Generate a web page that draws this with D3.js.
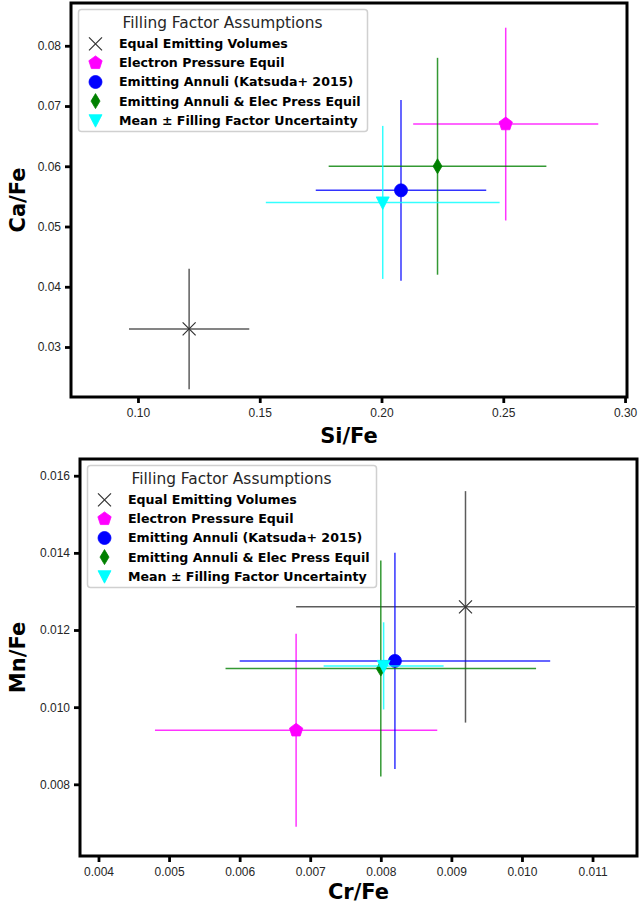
<!DOCTYPE html>
<html lang="en">
<head>
    <meta charset="UTF-8" />
    <title>Filling Factor Assumptions</title>
    <style>
        body { margin: 0; background: #fff; }
        svg { display: block; font-family: "DejaVu Sans", sans-serif; }
        .tick text { fill: #262626; font-size: 12px; }
        .tick line { stroke: #000; stroke-width: 2.8; }
        .axis-label { font-weight: bold; font-size: 21px; fill: #000; }
        .legend-title { font-size: 15.4px; fill: #262626; }
        .legend-item { font-size: 12.6px; font-weight: bold; fill: #000; }
    </style>
</head>
<body>
    <svg></svg>
    <script src="https://d3js.org/d3.v7.min.js"></script>
    <script>
        // series, in legend order
        const seriesNames = [
            "Equal Emitting Volumes",
            "Electron Pressure Equil",
            "Emitting Annuli (Katsuda+ 2015)",
            "Emitting Annuli & Elec Press Equil",
            "Mean \u00b1 Filling Factor Uncertainty"
        ];
        const seriesColors = ["#000000", "#ff00ff", "#0000ff", "#008000", "#00ffff"];
        const seriesMarkers = ["x", "pentagon", "circle", "diamond", "triangleDown"];

        // top panel: Si/Fe vs Ca/Fe
        const siFe = [0.121, 0.251, 0.208, 0.223, 0.2005];
        const siFeErr = [0.0247, 0.038, 0.035, 0.0447, 0.048];
        const caFe = [0.033, 0.067, 0.056, 0.060, 0.054];
        const caFeErr = [0.010, 0.016, 0.015, 0.018, 0.0127];

        // bottom panel: Cr/Fe vs Mn/Fe
        const crFe = [0.0092, 0.0068, 0.0082, 0.0080, 0.00804];
        const crFeErr = [0.0024, 0.0020, 0.0022, 0.0022, 0.00085];
        const mnFe = [0.0126, 0.0094, 0.0112, 0.0110, 0.01107];
        const mnFeErr = [0.0030, 0.0025, 0.0028, 0.0028, 0.00113];

        const siTicks = [0.10, 0.15, 0.20, 0.25, 0.30];
        const caTicks = [0.03, 0.04, 0.05, 0.06, 0.07, 0.08];
        const crTicks = [0.004, 0.005, 0.006, 0.007, 0.008, 0.009, 0.010, 0.011];
        const mnTicks = [0.008, 0.010, 0.012, 0.014, 0.016];

        const width = 639;
        const height = 905;

        const svg = d3.select("svg")
            .attr("width", width)
            .attr("height", height);

        // marker shapes centred on 0,0
        function markerPath(kind) {
            const p = d3.path();
            if (kind === "x") {
                const s = 6.5;
                p.moveTo(-s, -s); p.lineTo(s, s);
                p.moveTo(-s, s); p.lineTo(s, -s);
            } else if (kind === "pentagon") {
                const r = 7;
                for (let i = 0; i < 5; i++) {
                    const a = -Math.PI / 2 + i * 2 * Math.PI / 5;
                    i === 0 ? p.moveTo(r * Math.cos(a), r * Math.sin(a)) : p.lineTo(r * Math.cos(a), r * Math.sin(a));
                }
                p.closePath();
            } else if (kind === "circle") {
                p.arc(0, 0, 6.5, 0, 2 * Math.PI);
            } else if (kind === "diamond") {
                p.moveTo(0, -7.5); p.lineTo(4.5, 0); p.lineTo(0, 7.5); p.lineTo(-4.5, 0);
                p.closePath();
            } else if (kind === "triangleDown") {
                p.moveTo(-6.5, -5.5); p.lineTo(6.5, -5.5); p.lineTo(0, 7);
                p.closePath();
            }
            return p.toString();
        }

        function drawMarker(g, kind, color, x, y) {
            const m = g.append("path")
                .attr("d", markerPath(kind))
                .attr("transform", `translate(${x},${y})`);
            if (kind === "x") {
                m.attr("fill", "none").attr("stroke", "#333").attr("stroke-width", 1.2);
            } else {
                m.attr("fill", color).attr("stroke", color).attr("stroke-width", 0.8);
            }
        }

        function drawPanel(cfg) {
            const g = svg.append("g");

            const x = d3.scaleLinear().domain(cfg.xDomain).range([cfg.left, cfg.right]);
            const y = d3.scaleLinear().domain(cfg.yDomain).range([cfg.bottom, cfg.top]);

            // axes
            const xAxis = g.append("g")
                .attr("transform", `translate(0,${cfg.bottom})`)
                .call(d3.axisBottom(x).tickValues(cfg.xTicks).tickFormat(d3.format(cfg.xFmt))
                    .tickSize(6).tickPadding(5));
            const yAxis = g.append("g")
                .attr("transform", `translate(${cfg.left},0)`)
                .call(d3.axisLeft(y).tickValues(cfg.yTicks).tickFormat(d3.format(cfg.yFmt))
                    .tickSize(6).tickPadding(4));
            xAxis.select(".domain").remove();
            yAxis.select(".domain").remove();
            g.selectAll(".tick text").attr("font-family", null).attr("font-size", null);

            // error bars + markers
            const plot = g.append("g");
            cfg.xs.forEach((xv, i) => {
                const lineColor = i === 0 ? "#333" : seriesColors[i];
                const cx = x(xv), cy = y(cfg.ys[i]);
                plot.append("line")
                    .attr("x1", x(xv - cfg.xErr[i])).attr("x2", x(xv + cfg.xErr[i]))
                    .attr("y1", cy).attr("y2", cy)
                    .attr("stroke", lineColor).attr("stroke-opacity", 0.8).attr("stroke-width", 1.5);
                plot.append("line")
                    .attr("x1", cx).attr("x2", cx)
                    .attr("y1", y(cfg.ys[i] - cfg.yErr[i])).attr("y2", y(cfg.ys[i] + cfg.yErr[i]))
                    .attr("stroke", lineColor).attr("stroke-opacity", 0.8).attr("stroke-width", 1.5);
                drawMarker(plot, seriesMarkers[i], seriesColors[i], cx, cy);
            });

            // frame
            g.append("rect")
                .attr("x", cfg.left).attr("y", cfg.top)
                .attr("width", cfg.right - cfg.left).attr("height", cfg.bottom - cfg.top)
                .attr("fill", "none").attr("stroke", "#000").attr("stroke-width", 3);

            // legend
            const lx = cfg.left + 7.5, ly = cfg.top + 6.5;
            const lg = g.append("g").attr("transform", `translate(${lx},${ly})`);
            lg.append("rect")
                .attr("width", 289).attr("height", 122)
                .attr("rx", 3)
                .attr("fill", "#fff").attr("fill-opacity", 0.85)
                .attr("stroke", "#d0d0d0").attr("stroke-width", 1.5);
            lg.append("text")
                .attr("class", "legend-title")
                .attr("x", 144).attr("y", 13)
                .attr("text-anchor", "middle").attr("dy", "0.35em")
                .text("Filling Factor Assumptions");
            seriesNames.forEach((name, i) => {
                const ry = 34.3 + i * 19.1;
                drawMarker(lg, seriesMarkers[i], seriesColors[i], 17, ry);
                lg.append("text")
                    .attr("class", "legend-item")
                    .attr("x", 40.5).attr("y", ry).attr("dy", "0.35em")
                    .text(name);
            });

            // axis titles
            g.append("text")
                .attr("class", "axis-label")
                .attr("x", (cfg.left + cfg.right) / 2).attr("y", Math.min(cfg.bottom + 46, height - 6))
                .attr("text-anchor", "middle")
                .text(cfg.xLabel);
            g.append("text")
                .attr("class", "axis-label")
                .attr("transform", `translate(25,${(cfg.top + cfg.bottom) / 2}) rotate(-90)`)
                .attr("text-anchor", "middle")
                .text(cfg.yLabel);
        }

        drawPanel({
            left: 71, right: 627, top: 3, bottom: 397,
            xDomain: [0.0725, 0.3008], yDomain: [0.0217, 0.0871],
            xTicks: siTicks, yTicks: caTicks, xFmt: ".2f", yFmt: ".2f",
            xs: siFe, xErr: siFeErr, ys: caFe, yErr: caFeErr,
            xLabel: "Si/Fe", yLabel: "Ca/Fe"
        });

        drawPanel({
            left: 80, right: 637, top: 459, bottom: 856,
            xDomain: [0.003738, 0.01163], yDomain: [0.006142, 0.016433],
            xTicks: crTicks, yTicks: mnTicks, xFmt: ".3f", yFmt: ".3f",
            xs: crFe, xErr: crFeErr, ys: mnFe, yErr: mnFeErr,
            xLabel: "Cr/Fe", yLabel: "Mn/Fe"
        });
    </script>
</body>
</html>
